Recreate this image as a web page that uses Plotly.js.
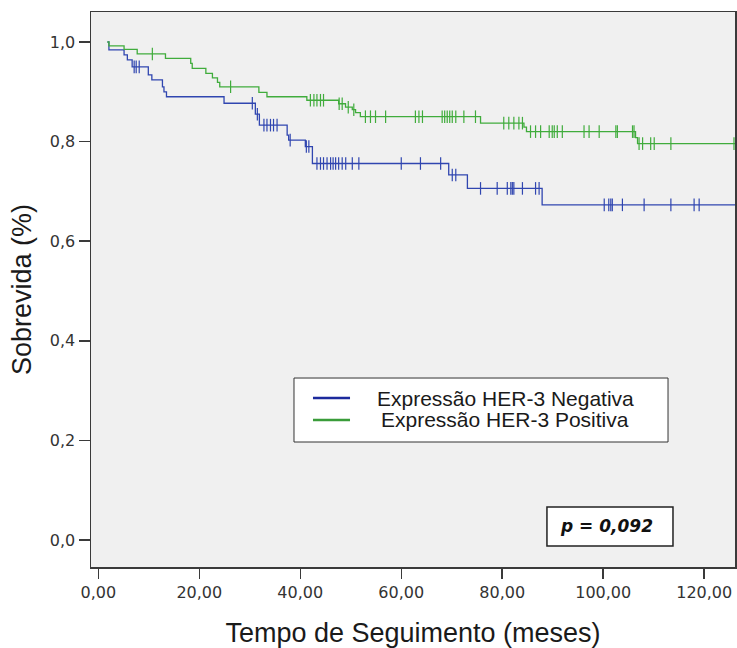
<!DOCTYPE html>
<html>
<head>
<meta charset="utf-8">
<script src="https://cdn.plot.ly/plotly-3.0.1.min.js"></script>
<style>
  html, body { margin: 0; padding: 0; background: #ffffff; }
  #chart { width: 737px; height: 648px; }
</style>
</head>
<body>
<div id="chart"></div>
<script>
// ---------- Data ----------
// Kaplan-Meier curve: Expressão HER-3 Negativa
var negStartTime = 1.8;
var negEventTimes = [2.1, 5.1, 5.75, 6.7, 9.9, 10.6, 12.7, 13.0, 13.5, 24.9, 31.1, 31.9, 37.4, 37.7, 41.0, 42.4, 69.4, 73.1, 87.9];
var negSurvival   = [0.984, 0.974, 0.964, 0.950, 0.934, 0.924, 0.910, 0.900, 0.890, 0.877, 0.855, 0.833, 0.813, 0.803, 0.790, 0.756, 0.733, 0.706, 0.673];
var negCensorTimes = [7.1, 7.5, 8.1, 30.5, 31.5, 32.8, 33.4, 34.1, 34.7, 35.4, 38.0, 41.2, 41.7,
  43.3, 44.0, 44.6, 45.3, 46.0, 46.5, 47.0, 47.6, 48.3, 49.0, 50.3, 51.6, 60.0, 63.8, 67.8,
  70.1, 70.8, 75.7, 79.0, 81.0, 81.7, 82.0, 82.3, 84.0, 86.6, 87.3,
  100.2, 101.1, 101.5, 101.8, 103.8, 108.1, 113.4, 118.0, 119.0];
var negEndTime = 126.1;

// Kaplan-Meier curve: Expressão HER-3 Positiva
var posStartTime = 1.8;
var posEventTimes = [2.1, 5.1, 7.7, 13.3, 18.3, 18.6, 21.3, 22.6, 23.6, 24.05, 31.8, 33.4, 41.3, 47.6, 48.96, 50.3, 50.95, 51.9, 75.7, 84.3, 84.8, 106.4, 106.8];
var posSurvival   = [0.992, 0.985, 0.976, 0.967, 0.957, 0.947, 0.937, 0.928, 0.919, 0.910, 0.899, 0.890, 0.883, 0.876, 0.869, 0.864, 0.858, 0.850, 0.837, 0.829, 0.820, 0.808, 0.796];
var posCensorTimes = [10.7, 26.2, 42.0, 42.7, 43.3, 44.0, 44.6, 47.7, 48.3, 49.5, 50.6,
  52.9, 53.9, 54.9, 56.9, 62.8, 63.5, 64.2, 68.1, 68.6, 69.1, 69.6, 70.1, 70.8, 72.4, 74.7,
  80.3, 81.3, 82.3, 83.3, 84.0, 85.6, 86.6, 87.6, 89.3, 89.9, 90.3, 90.9, 91.9,
  96.2, 97.2, 99.2, 102.5, 102.8, 105.8, 106.1, 107.1, 107.8, 109.4, 110.1, 113.4, 125.9];
var posEndTime = 126.1;

var seriesNames = ["Expressão HER-3 Negativa", "Expressão HER-3 Positiva"];
var xTickVals  = [0, 20, 40, 60, 80, 100, 120];
var xTickText  = ["0,00", "20,00", "40,00", "60,00", "80,00", "100,00", "120,00"];
var yTickVals  = [0, 0.2, 0.4, 0.6, 0.8, 1.0];
var yTickText  = ["0,0", "0,2", "0,4", "0,6", "0,8", "1,0"];
var pValueText = "p = 0,092";
var xTitle = "Tempo de Seguimento (meses)";
var yTitle = "Sobrevida (%)";

// ---------- Helpers ----------
function stepXY(start, times, surv, end) {
  var x = [start].concat(times).concat([end]);
  var y = [1.0].concat(surv).concat([surv[surv.length - 1]]);
  return {x: x, y: y};
}
function survAt(times, surv, t) {
  var s = 1.0;
  for (var i = 0; i < times.length; i++) { if (times[i] <= t) s = surv[i]; }
  return s;
}

var negColor = "#3046b0", posColor = "#40ac3c";
var negLegendColor = "#1c2a9c", posLegendColor = "#3a9c3a";

var negStep = stepXY(negStartTime, negEventTimes, negSurvival, negEndTime);
var posStep = stepXY(posStartTime, posEventTimes, posSurvival, posEndTime);

var traces = [
  {x: negStep.x, y: negStep.y, type: "scatter", mode: "lines", name: seriesNames[0],
   line: {shape: "hv", color: negColor, width: 1.3}, showlegend: false, hoverinfo: "skip"},
  {x: posStep.x, y: posStep.y, type: "scatter", mode: "lines", name: seriesNames[1],
   line: {shape: "hv", color: posColor, width: 1.3}, showlegend: false, hoverinfo: "skip"},
  {x: negCensorTimes, y: negCensorTimes.map(function(t){ return survAt(negEventTimes, negSurvival, t); }),
   type: "scatter", mode: "markers", showlegend: false, hoverinfo: "skip",
   marker: {symbol: "line-ns-open", size: 9, color: negColor, line: {color: negColor, width: 1.2}}},
  {x: posCensorTimes, y: posCensorTimes.map(function(t){ return survAt(posEventTimes, posSurvival, t); }),
   type: "scatter", mode: "markers", showlegend: false, hoverinfo: "skip",
   marker: {symbol: "line-ns-open", size: 9, color: posColor, line: {color: posColor, width: 1.2}}}
];

var layout = {
  width: 737, height: 648,
  margin: {l: 91, r: 2, t: 12, b: 81, pad: 0},
  paper_bgcolor: "#ffffff",
  plot_bgcolor: "#f0f0f0",
  showlegend: false,
  font: {family: "DejaVu Sans", color: "#333333", size: 16},
  xaxis: {
    range: [-1.45, 126.1], showgrid: false, zeroline: false,
    showline: true, mirror: true, linecolor: "#3a3a3a", linewidth: 1.5,
    ticks: "outside", ticklen: 10, tickwidth: 1.5, tickcolor: "#3a3a3a",
    tickvals: xTickVals, ticktext: xTickText,
    tickfont: {family: "DejaVu Sans", size: 16, color: "#333333"},
    title: {text: xTitle, standoff: 22, font: {family: "Liberation Sans, Arial", size: 27, color: "#1a1a1a"}},
    automargin: false, fixedrange: true
  },
  yaxis: {
    range: [-0.0542, 1.0602], showgrid: false, zeroline: false,
    showline: true, mirror: true, linecolor: "#3a3a3a", linewidth: 1.5,
    ticks: "outside", ticklen: 11, tickwidth: 1.5, tickcolor: "#3a3a3a",
    tickvals: yTickVals, ticktext: yTickText,
    tickfont: {family: "DejaVu Sans", size: 16, color: "#333333"},
    title: {text: yTitle, standoff: 10, font: {family: "Liberation Sans, Arial", size: 27, color: "#1a1a1a"}},
    automargin: false, fixedrange: true
  },
  shapes: [
    // legend box
    {type: "rect", xref: "paper", yref: "paper", x0: 0.3152, x1: 0.896, y0: 0.2252, y1: 0.3405,
     line: {color: "#333333", width: 1}, fillcolor: "#ffffff", layer: "above"},
    {type: "line", xref: "paper", yref: "paper", x0: 0.3447, x1: 0.4022, y0: 0.3045, y1: 0.3045,
     line: {color: negLegendColor, width: 2.5}, layer: "above"},
    {type: "line", xref: "paper", yref: "paper", x0: 0.3447, x1: 0.4022, y0: 0.2649, y1: 0.2649,
     line: {color: posLegendColor, width: 2.5}, layer: "above"},
    // p-value box
    {type: "rect", xref: "paper", yref: "paper", x0: 0.708, x1: 0.9037, y0: 0.0378, y1: 0.1081,
     line: {color: "#222222", width: 1.5}, fillcolor: "#ffffff", layer: "above"}
  ],
  annotations: [
    {xref: "paper", yref: "paper", x: 0.6429, y: 0.3045, xanchor: "center", yanchor: "middle",
     text: seriesNames[0], showarrow: false, font: {family: "Liberation Sans, Arial", size: 21, color: "#1a1a1a"}},
    {xref: "paper", yref: "paper", x: 0.6429, y: 0.2649, xanchor: "center", yanchor: "middle",
     text: seriesNames[1], showarrow: false, font: {family: "Liberation Sans, Arial", size: 21, color: "#1a1a1a"}},
    {xref: "paper", yref: "paper", x: 0.8005, y: 0.073, xanchor: "center", yanchor: "middle",
     text: "<b><i>" + pValueText + "</i></b>", showarrow: false,
     font: {family: "DejaVu Sans", size: 17, color: "#111111"}}
  ]
};

Plotly.newPlot("chart", traces, layout, {displayModeBar: false, staticPlot: true});
</script>
</body>
</html>
